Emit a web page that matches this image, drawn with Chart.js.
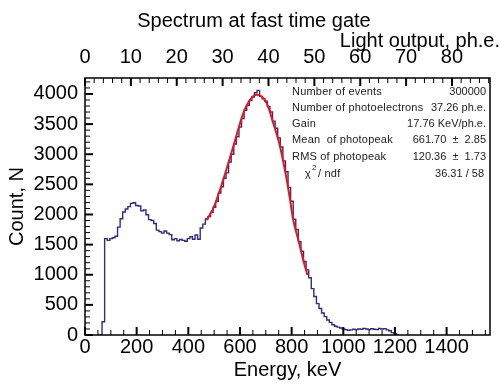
<!DOCTYPE html>
<html>
<head>
<meta charset="utf-8">
<script src="https://cdn.jsdelivr.net/npm/chart.js@4/dist/chart.umd.min.js"></script>
<style>
  body { margin: 0; background: #fff; }
</style>
</head>
<body>
<canvas id="myChart" width="501" height="387"></canvas>
<script>
// histogram: left edge of first bin and bin width, keV
var binStart = 56;
var binWidth = 10;
var counts = [
    0, 221, 1600, 1570, 1600, 1615, 1640, 1790, 1930, 2040,
    2090, 2130, 2185, 2195, 2150, 2140, 2060, 2075, 1995, 1915,
    1900, 1850, 1740, 1715, 1690, 1725, 1690, 1665, 1580, 1600,
    1565, 1585, 1570, 1555, 1600, 1630, 1590, 1660, 1590, 1775,
    1840, 1925, 1965, 2035, 2120, 2220, 2355, 2460, 2600, 2690,
    2870, 3000, 3170, 3290, 3450, 3590, 3730, 3810, 3890, 3950,
    4020, 4060, 3960, 3920, 3880, 3790, 3700, 3550, 3430, 3270,
    3120, 2890, 2710, 2450, 2220, 1920, 1750, 1550, 1390, 1220,
    1080, 950, 770, 640, 520, 440, 365, 305, 250, 210,
    170, 145, 130, 115, 100, 90, 80, 85, 95, 90,
    100, 95, 110, 100, 90, 105, 95, 90, 110, 100,
    105, 85, 70, 40, 20, 0];

// fitted photopeak
var fitEnergy = [471, 497, 535, 574, 613, 639, 665, 703, 729, 755, 781, 794, 806, 826, 845, 861];
var fitCounts = [1910, 2105, 2575, 3128, 3683, 3903, 3986, 3849, 3516, 3128, 2575, 2242, 1910, 1578, 1246, 997];

// tick labels
var energyTicks = [0, 200, 400, 600, 800, 1000, 1200, 1400];
var phTicks = [0, 10, 20, 30, 40, 50, 60, 70, 80];
var countTicks = [0, 500, 1000, 1500, 2000, 2500, 3000, 3500, 4000];

var gain = 17.76;        // keV per ph.e.
var energyMax = 1568;
var countMax = 4265;

var statLabels = ['Number of events', 'Number of photoelectrons', 'Gain', 'Mean  of photopeak', 'RMS of photopeak'];
var statValues = ['300000', '37.26 ph.e.', '17.76 KeV/ph.e.', '661.70  \u00b1  2.85', '120.36  \u00b1  1.73', '36.31 / 58'];

var FONT = '"Liberation Sans", Arial, sans-serif';
Chart.defaults.font.family = FONT;
Chart.defaults.color = '#000';

var histPoints = counts.map((c, i) => ({x: binStart + i * binWidth, y: c}));
histPoints.push({x: binStart + counts.length * binWidth, y: 0});
var fitPoints = fitEnergy.map((e, i) => ({x: e, y: fitCounts[i]}));

function fixedTicks(values) {
    return s => { s.ticks = values.map(v => ({value: v})); };
}

// frame, inward ticks, titles and the stats text
var frameTicks = {
    id: 'frameTicks',
    afterDraw(chart) {
        var ctx = chart.ctx, a = chart.chartArea, s = chart.scales;
        ctx.save();
        ctx.strokeStyle = '#000';
        function seg(x1, y1, x2, y2, w) {
            ctx.lineWidth = w;
            ctx.beginPath(); ctx.moveTo(x1, y1); ctx.lineTo(x2, y2); ctx.stroke();
        }
        for (var v = 0; v <= energyMax; v += 50) {
            var x = s.x.getPixelForValue(v), big = v % 200 === 0;
            seg(x, a.bottom, x, a.bottom - (big ? 8 : 5), big ? 2 : 1);
        }
        for (var p = 0; p <= energyMax / gain; p += 2) {
            var x = s.x2.getPixelForValue(p), big = p % 10 === 0;
            seg(x, a.top, x, a.top + (big ? 8 : 5), big ? 2 : 1);
        }
        for (var n = 0; n <= countMax; n += 100) {
            var y = s.y.getPixelForValue(n), big = n % 500 === 0;
            seg(a.left, y, a.left + (big ? 8 : 5), y, big ? 2 : 1);
        }
        ctx.lineWidth = 1.5;
        ctx.strokeRect(a.left, a.top, a.right - a.left, a.bottom - a.top);

        ctx.fillStyle = '#000';
        ctx.font = '20px ' + FONT;
        ctx.textBaseline = 'middle';
        ctx.textAlign = 'center';
        ctx.fillText('Spectrum at fast time gate', 254, 21);
        ctx.textAlign = 'right';
        ctx.fillText('Light output, ph.e.', 500, 41);

        // stats box
        ctx.font = '11px ' + FONT;
        ctx.fillStyle = '#222';
        var rows = [92, 108, 124, 140, 157, 174];
        ctx.letterSpacing = '0.2px';
        ctx.textAlign = 'left';
        statLabels.forEach((t, i) => ctx.fillText(t, 292, rows[i]));
        ctx.fillText('\u03c7', 305, rows[5]);
        ctx.fillText('/ ndf', 318, rows[5]);
        ctx.font = '8px ' + FONT;
        ctx.fillText('2', 312, rows[5] - 6);
        ctx.font = '11px ' + FONT;
        ctx.letterSpacing = '0px';
        ctx.textAlign = 'right';
        statValues.forEach((t, i) => ctx.fillText(t, i === 5 ? 484 : 486, rows[i]));
        ctx.restore();
    }
};

var axisFont = {size: 20};
var plain = v => String(v);
var ctx = document.getElementById('myChart').getContext('2d');
var chart = new Chart(ctx, {
    type: 'line',
    data: {
        datasets: [{
            label: 'fit',
            data: fitPoints,
            borderColor: '#e8161c',
            borderWidth: 2,
            pointRadius: 0,
            cubicInterpolationMode: 'monotone',
            fill: false
        }, {
            label: 'spectrum',
            data: histPoints,
            borderColor: '#2e2e7e',
            borderWidth: 1.4,
            pointRadius: 0,
            stepped: 'before',
            fill: false
        }]
    },
    options: {
        responsive: false,
        animation: false,
        layout: {padding: {right: 11}},
        plugins: {
            legend: {display: false},
            tooltip: {enabled: false},
            title: {display: false}
        },
        scales: {
            x: {
                type: 'linear', position: 'bottom', min: 0, max: energyMax,
                grid: {display: false, drawTicks: false}, border: {display: false},
                afterBuildTicks: fixedTicks(energyTicks),
                ticks: {font: axisFont, padding: 0, maxRotation: 0, autoSkip: false, callback: plain},
                title: {display: true, text: 'Energy, keV', font: axisFont, padding: {top: 0, bottom: 5}},
                afterFit: s => { s.height = 52; }
            },
            x2: {
                type: 'linear', position: 'top', min: 0, max: energyMax / gain,
                grid: {display: false, drawTicks: false}, border: {display: false},
                afterBuildTicks: fixedTicks(phTicks),
                ticks: {font: axisFont, padding: 9, maxRotation: 0, autoSkip: false, callback: plain},
                afterFit: s => { s.height = 78; }
            },
            y: {
                type: 'linear', min: 0, max: countMax,
                grid: {display: false, drawTicks: false}, border: {display: false},
                afterBuildTicks: fixedTicks(countTicks),
                ticks: {font: axisFont, padding: 7, autoSkip: false, callback: plain},
                title: {display: true, text: 'Count, N', font: axisFont, padding: {top: 5, bottom: 0}},
                afterFit: s => { s.width = 85; }
            }
        }
    },
    plugins: [frameTicks]
});
</script>
</body>
</html>
